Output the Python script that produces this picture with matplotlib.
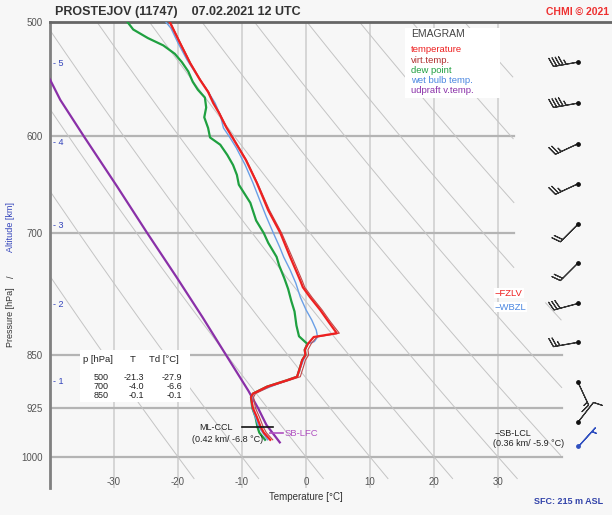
import numpy as np
import matplotlib.pyplot as plt
from matplotlib.patches import Rectangle
from matplotlib.ticker import NullLocator

plt.rcParams['font.family'] = ['Liberation Sans', 'DejaVu Sans']

# sounding profiles (pressure hPa, temperature °C)
temp_p = [500, 517, 534, 548, 559, 569, 578, 591, 600, 623, 646, 675, 700, 725, 746, 755, 763,
          775, 791, 806, 821, 826, 835, 843, 850, 857, 866, 880, 885, 894, 904, 909, 925, 938,
          953, 962, 973]
temp_t = [-21.3, -19.7, -18.1, -16.6, -15.3, -14.5, -13.6, -12.5, -11.6, -9.4, -7.7, -5.9, -4.0,
          -2.6, -1.4, -0.9, -0.5, 0.6, 2.2, 3.5, 4.8, 1.2, 0.3, -0.2, -0.1, -0.6, -0.9, -1.4,
          -3.0, -6.1, -8.3, -8.6, -8.3, -7.7, -7.1, -6.6, -5.6]
virt_t = [-21.2, -19.6, -18.0, -16.5, -15.2, -14.4, -13.5, -12.4, -11.5, -9.3, -7.6, -5.7, -3.8,
          -2.3, -1.1, -0.6, -0.2, 0.9, 2.5, 3.8, 5.2, 1.7, 0.8, 0.3, 0.4, -0.1, -0.4, -0.9,
          -2.6, -5.7, -7.9, -8.2, -7.9, -7.3, -6.7, -6.2, -5.2]

dew_p = [500, 506, 513, 519, 526, 533, 541, 550, 557, 564, 573, 582, 592, 601, 608, 618, 628,
         638, 648, 667, 686, 700, 711, 727, 737, 752, 765, 780, 793, 811, 825, 832, 835, 843,
         850, 857, 866, 880, 885, 894, 904, 909, 925, 938, 953, 962, 973]
dew_t = [-27.9, -27.0, -24.7, -22.3, -20.5, -19.4, -18.4, -17.7, -16.9, -15.8, -15.6, -15.9,
         -15.3, -15.0, -13.4, -12.3, -11.4, -10.8, -10.5, -8.7, -7.8, -6.6, -5.9, -4.6, -4.2,
         -3.4, -2.8, -2.3, -1.8, -1.5, -1.1, -0.2, 0.2, -0.2, -0.1, -0.6, -0.9, -1.4, -3.0,
         -6.1, -8.3, -8.6, -8.4, -7.9, -7.6, -7.3, -6.4]

wet_p = [500, 505, 517, 531, 542, 557, 569, 580, 592, 600, 611, 628, 646, 663, 682, 700, 716,
         727, 742, 758, 775, 791, 804, 817, 826, 832, 835, 843, 850, 880, 885, 904, 925, 953,
         973]
wet_t = [-21.9, -21.1, -20.0, -18.6, -17.3, -15.5, -14.2, -13.4, -12.9, -12.0, -10.9, -9.5,
         -8.3, -7.3, -6.2, -5.1, -4.1, -3.5, -2.5, -1.6, -0.9, 0.0, 0.9, 1.6, 1.8, 1.3, 0.3,
         -0.2, -0.1, -1.4, -3.0, -8.3, -8.4, -7.4, -6.0]

parcel_p = [500, 548, 566, 600, 650, 700, 750, 800, 850, 900, 925, 950, 977]
parcel_t = [-46.5, -40.0, -38.4, -34.7, -29.5, -24.8, -20.3, -16.2, -12.5, -9.0, -7.5, -6.2, -4.1]

# winds
wind_p = [533, 569, 607, 647, 690, 734, 783, 833, 888, 946]
wind_dir = [260, 260, 245, 245, 225, 225, 255, 260, 155, 38]
wind_kt = [45, 45, 25, 25, 20, 20, 30, 25, 15, 10]
sfc_p = [982]
sfc_dir = [42]
sfc_kt = [5]

table_p = [500, 700, 850]
table_t = [-21.3, -4.0, -0.1]
table_td = [-27.9, -6.6, -0.1]

alt_km = [1, 2, 3, 4, 5]
alt_p = [887, 784, 691, 606, 534]

p_levels = [500, 600, 700, 850, 925, 1000]
t_ticks = [-30, -20, -10, 0, 10, 20, 30]
theta_c = list(range(-20, 111, 10))

W, H = 612, 515
fig = plt.figure(figsize=(W / 100, H / 100), dpi=100, facecolor='#f7f7f7')
ax = fig.add_axes([50 / W, 1 - 487.6 / H, 562 / W, 465.6 / H])
ax.set_facecolor('#f7f7f7')
ax.set_yscale('log')
ax.set_ylim(1050, 500)
ax.set_xlim(-40, 47.8)


def px(x, y):
    return (x - 50) / 562, (487.6 - y) / 465.6


ax.yaxis.set_minor_locator(NullLocator())
ax.set_yticks(p_levels)
ax.set_yticklabels([str(p) for p in p_levels])
ax.tick_params(axis='y', length=0, pad=5, labelsize=7, labelcolor='#555555')
ax.set_xticks([])
for s in ['right', 'bottom']:
    ax.spines[s].set_visible(False)
ax.spines['left'].set_color('#808080')
ax.spines['left'].set_linewidth(2)
ax.spines['top'].set_color('#666666')
ax.spines['top'].set_linewidth(2)

# grid
for t in t_ticks:
    ax.plot([t, t], [500, 1050], color='#cccccc', lw=1.1, zorder=1)
    ax.text(t, 1040, str(t), ha='center', va='center', fontsize=7, color='#555555')
for p in p_levels[1:]:
    tmax = 32.5 if p < 800 else 40
    ax.plot([-40, tmax], [p, p], color='#b4b4b4', lw=1.6, zorder=1)

# dry adiabats
pp = np.linspace(500, 1035, 200)
for th in theta_c:
    tt = (th + 273.15) * (pp / 1000) ** 0.2857 - 273.15
    lim = np.where(pp < 780, 32.5, 40)
    tt = np.where(tt <= lim, tt, np.nan)
    ax.plot(tt, pp, color='#c4c4c4', lw=0.7, zorder=1)

# profiles
ax.plot(parcel_t, parcel_p, color='#8a30a8', lw=1.6, zorder=3)
ax.plot(dew_t, dew_p, color='#1fa040', lw=1.6, zorder=3)
ax.plot(wet_t, wet_p, color='#6a9fe6', lw=1.0, zorder=3)
ax.plot(virt_t, temp_p, color='#c04848', lw=0.8, zorder=4)
ax.plot(temp_t, temp_p, color='#ee2020', lw=1.6, zorder=5)

# winds
bsz = dict(spacing=0.13, height=0.35, width=0.25)
wr = np.radians(wind_dir)
u = -np.array(wind_kt) * np.sin(wr)
v = -np.array(wind_kt) * np.cos(wr)
ax.barbs([42.5] * len(wind_p), wind_p, u, v, length=6, lw=0.8, color='#333333',
         sizes=bsz, zorder=5)
ax.scatter([42.5] * len(wind_p), wind_p, s=6, color='#111111', zorder=6)
sr = np.radians(sfc_dir)
ax.barbs([42.5], sfc_p, -np.array(sfc_kt) * np.sin(sr), -np.array(sfc_kt) * np.cos(sr),
         length=6, lw=0.9, color='#3050c0', sizes=bsz, zorder=5)
ax.scatter([42.5], sfc_p, s=6, color='#3050c0', zorder=6)

# legend box
ax.add_patch(Rectangle(px(405, 98), 95 / 562, 70 / 465.6, transform=ax.transAxes,
                       facecolor='white', edgecolor='none', zorder=2))
ax.text(*px(411, 34), 'EMAGRAM', transform=ax.transAxes, fontsize=7.5, color='#444444',
        va='center', zorder=6)
leg = [('temperature', '#ee2020'), ('virt.temp.', '#b03030'), ('dew point', '#1fa040'),
       ('wet bulb temp.', '#4a86e0'), ('udpraft v.temp.', '#8a30a8')]
for i, (lab, c) in enumerate(leg):
    ax.text(*px(411, 50 + i * 10.2), lab, transform=ax.transAxes, fontsize=6.8, color=c,
            va='center', zorder=6)

# value table
ax.add_patch(Rectangle(px(80, 402), 110 / 562, 52 / 465.6, transform=ax.transAxes,
                       facecolor='white', edgecolor='none', zorder=2))
ax.text(*px(83, 360), 'p [hPa]', transform=ax.transAxes, fontsize=6.8, color='#222222', va='center', zorder=6)
ax.text(*px(133, 360), 'T', transform=ax.transAxes, fontsize=6.8, color='#222222', va='center', ha='center', zorder=6)
ax.text(*px(149, 360), 'Td [°C]', transform=ax.transAxes, fontsize=6.8, color='#222222', va='center', zorder=6)
for i in range(len(table_p)):
    y = 377 + i * 9.5
    ax.text(*px(109, y), str(table_p[i]), transform=ax.transAxes, fontsize=6.5, ha='right', va='center', color='#222222', zorder=6)
    ax.text(*px(144, y), f'{table_t[i]:.1f}', transform=ax.transAxes, fontsize=6.5, ha='right', va='center', color='#222222', zorder=6)
    ax.text(*px(182, y), f'{table_td[i]:.1f}', transform=ax.transAxes, fontsize=6.5, ha='right', va='center', color='#222222', zorder=6)

# altitude marks
for km, p in zip(alt_km, alt_p):
    ax.text(-39.6, p, f'- {km}', fontsize=6.5, color='#3344bb', va='center', ha='left', zorder=6)

# level markers
ax.plot([-10.0, -5.2], [953, 953], color='#111111', lw=1.2, zorder=6)
ax.text(*px(233, 428), 'ML-CCL', transform=ax.transAxes, fontsize=6.5, ha='right', va='center', color='#222222', zorder=6)
ax.text(*px(263, 439), '(0.42 km/ -6.8 °C)', transform=ax.transAxes, fontsize=6.5, ha='right', va='center', color='#222222', zorder=6)
ax.plot([-5.6, -3.6], [963, 963], color='#b050c0', lw=1.2, zorder=6)
ax.text(*px(285, 433), 'SB-LFC', transform=ax.transAxes, fontsize=6.8, va='center', color='#b050c0', zorder=6)
ax.text(*px(495, 433), '\u2212SB-LCL', transform=ax.transAxes, fontsize=6.5, va='center', color='#222222', zorder=6)
ax.text(*px(493, 444), '(0.36 km/ -5.9 °C)', transform=ax.transAxes, fontsize=6.5, va='center', color='#222222', zorder=6)
ax.text(*px(495, 293), '\u2212FZLV', transform=ax.transAxes, fontsize=6.8, va='center', color='#ee2020', zorder=6,
        bbox=dict(facecolor='white', edgecolor='none', pad=0.5))
ax.text(*px(495, 307), '\u2212WBZL', transform=ax.transAxes, fontsize=6.8, va='center', color='#4a86e0', zorder=6,
        bbox=dict(facecolor='white', edgecolor='none', pad=0.5))

# figure texts
fig.text(55 / W, 1 - 12 / H, 'PROSTEJOV (11747)    07.02.2021 12 UTC', fontsize=9,
         fontweight='bold', color='#333333', va='center')
fig.text(546 / W, 1 - 12 / H, 'CHMI \u00a9 2021', fontsize=7.5, fontweight='bold',
         color='#ee3030', va='center')
fig.text(306 / W, 1 - 497 / H, 'Temperature [°C]', fontsize=7, color='#333333',
         ha='center', va='center')
fig.text(569 / W, 1 - 502 / H, 'SFC: 215 m ASL', fontsize=6.5, fontweight='bold',
         color='#3344aa', ha='center', va='center')
fig.text(11 / W, 1 - 227 / H, 'Altitude [km]', fontsize=6.5, color='#3344bb', rotation=90,
         ha='center', va='center')
fig.text(11 / W, 1 - 277 / H, '/', fontsize=6.5, color='#333333', rotation=90,
         ha='center', va='center')
fig.text(11 / W, 1 - 317 / H, 'Pressure [hPa]', fontsize=6.5, color='#333333', rotation=90,
         ha='center', va='center')

fig.savefig('out.png', dpi=100, facecolor=fig.get_facecolor())
